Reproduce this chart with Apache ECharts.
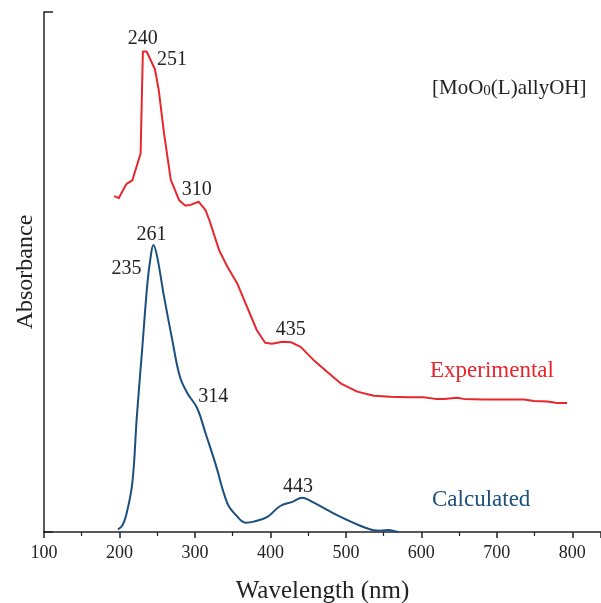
<!DOCTYPE html>
<html>
<head>
<meta charset="utf-8">
<script src="https://cdn.jsdelivr.net/npm/echarts@6/dist/echarts.min.js"></script>
<style>
  html, body { margin: 0; padding: 0; background: #fff; }
  #main { width: 601px; height: 603px; }
</style>
</head>
<body>
<div id="main"></div>
<script>
// experimental spectrum, [wavelength, absorbance (arb.)]
var expWave = [193, 199, 209, 217, 228, 231, 236, 247, 252, 259, 268, 279, 287, 294, 305, 314, 319,
  332, 343, 356, 369, 382, 393, 402, 416, 427, 440, 457, 475, 493, 515, 537, 559, 581, 603, 619,
  630, 647, 656, 683, 736, 749, 767, 780, 793];
var expAbs = [64.6, 64.2, 66.9, 67.6, 72.8, 92.4, 92.4, 89.0, 85.0, 76.7, 67.7, 63.8, 62.8, 62.9, 63.5, 61.9, 60.0,
  54.2, 51.0, 47.8, 43.3, 38.8, 36.4, 36.2, 36.6, 36.5, 35.6, 33.1, 30.8, 28.6, 27.0, 26.2, 26.0, 25.9, 25.9, 25.6,
  25.6, 25.8, 25.6, 25.5, 25.5, 25.2, 25.1, 24.8, 24.8];

// calculated spectrum
var calcWave = [198, 204, 209, 217, 223, 230, 237, 241, 245, 250, 259, 270, 280, 290, 303, 314, 327,
  343, 354, 367, 378, 396, 413, 429, 442, 453, 471, 493, 519, 535, 546, 557, 563, 570];
var calcAbs = [0.5, 1.3, 3.3, 9.4, 22.2, 35.0, 47.8, 52.6, 55.2, 52.9, 45.3, 36.9, 29.9, 26.7, 23.8, 19.0, 13.2,
  5.5, 3.3, 1.8, 2.0, 2.9, 5.0, 5.8, 6.6, 6.0, 4.6, 2.9, 1.2, 0.4, 0.25, 0.4, 0.2, 0];

// peak labels: text, curve point it belongs to
var expPeaks = [['240', 231, 92.4], ['251', 247, 89.0], ['310', 305, 63.5], ['435', 427, 36.5]];
var calcPeaks = [['261', 245, 55.2], ['235', 237, 47.8], ['314', 303, 23.8], ['443', 442, 6.6]];
var expOffsets = [[0, -13], [17, -9], [-2, -12], [0, -12]];
var calcOffsets = [[-2, -10], [-21, -15], [16, -11], [-4, -11]];

var xTicks = [100, 200, 300, 400, 500, 600, 700, 800];

var RED = '#e8262c';
var BLUE = '#1b4f7d';
var FONT = '"Liberation Serif", "DejaVu Serif", serif';

function zip(a, b) {
	return a.map(function (v, i) { return [v, b[i]]; });
}

function peakMarks(peaks, offsets) {
	return peaks.map(function (p, i) {
		return {
			coord: [p[1], p[2]],
			value: p[0],
			label: { offset: offsets[i] }
		};
	});
}

var chart = echarts.init(document.getElementById('main'));

var option = {
	animation: false,
	grid: { left: 44, right: 0, top: 12, bottom: 71, containLabel: false, outerBoundsMode: 'none' },
	xAxis: {
		type: 'value',
		min: 100,
		max: 838,
		interval: 100,
		name: 'Wavelength (nm)',
		nameLocation: 'middle',
		nameGap: 47,
		nameTextStyle: { fontFamily: FONT, fontSize: 25, color: '#222' },
		axisLine: { lineStyle: { color: '#222', width: 1.5 } },
		axisTick: { inside: false, length: 6, lineStyle: { color: '#222', width: 1.5 } },
		minorTick: { show: true, splitNumber: 2, length: 4, lineStyle: { color: '#222', width: 1.2 } },
		axisLabel: {
			fontFamily: FONT, fontSize: 18, color: '#222', margin: 12,
			showMaxLabel: false,
			formatter: function (v) { return xTicks.indexOf(v) >= 0 ? String(v) : ''; }
		},
		splitLine: { show: false }
	},
	yAxis: {
		type: 'value',
		min: 0,
		max: 100,
		interval: 100,
		name: 'Absorbance',
		nameLocation: 'middle',
		nameGap: 6,
		nameTextStyle: { fontFamily: FONT, fontSize: 24, color: '#222' },
		axisLine: { show: true, lineStyle: { color: '#222', width: 1.5 } },
		axisTick: { show: true, inside: true, length: 9, lineStyle: { color: '#222', width: 1.5 } },
		axisLabel: { show: false },
		splitLine: { show: false }
	},
	series: [
		{
			name: 'Experimental',
			type: 'line',
			data: zip(expWave, expAbs),
			showSymbol: false,
			smooth: false,
			lineStyle: { color: RED, width: 2, join: 'round' },
			itemStyle: { color: RED },
			markPoint: {
				symbol: 'circle',
				symbolSize: 0,
				label: { show: true, position: 'inside', fontFamily: FONT, fontSize: 20, color: '#222', formatter: '{c}' },
				data: peakMarks(expPeaks, expOffsets)
			}
		},
		{
			name: 'Calculated',
			type: 'line',
			data: zip(calcWave, calcAbs),
			showSymbol: false,
			smooth: 0.4,
			lineStyle: { color: BLUE, width: 2, join: 'round' },
			itemStyle: { color: BLUE },
			markPoint: {
				symbol: 'circle',
				symbolSize: 0,
				label: { show: true, position: 'inside', fontFamily: FONT, fontSize: 20, color: '#222', formatter: '{c}' },
				data: peakMarks(calcPeaks, calcOffsets)
			}
		}
	],
	graphic: [
		{
			type: 'text', left: 430, top: 359,
			style: { text: 'Experimental', fill: RED, font: '23px ' + FONT }
		},
		{
			type: 'text', left: 432, top: 488,
			style: { text: 'Calculated', fill: BLUE, font: '23px ' + FONT }
		},
		{
			type: 'text', left: 432, top: 78,
			style: {
				text: '{m|[MoO}{s|0}{m|(L)allyOH]}',
				rich: {
					m: { fontFamily: FONT, fontSize: 21, fill: '#222', verticalAlign: 'bottom' },
					s: { fontFamily: FONT, fontSize: 15, fill: '#222', padding: [7, 0, 0, 0], verticalAlign: 'bottom' }
				}
			}
		}
	]
};

chart.setOption(option);
</script>
</body>
</html>
